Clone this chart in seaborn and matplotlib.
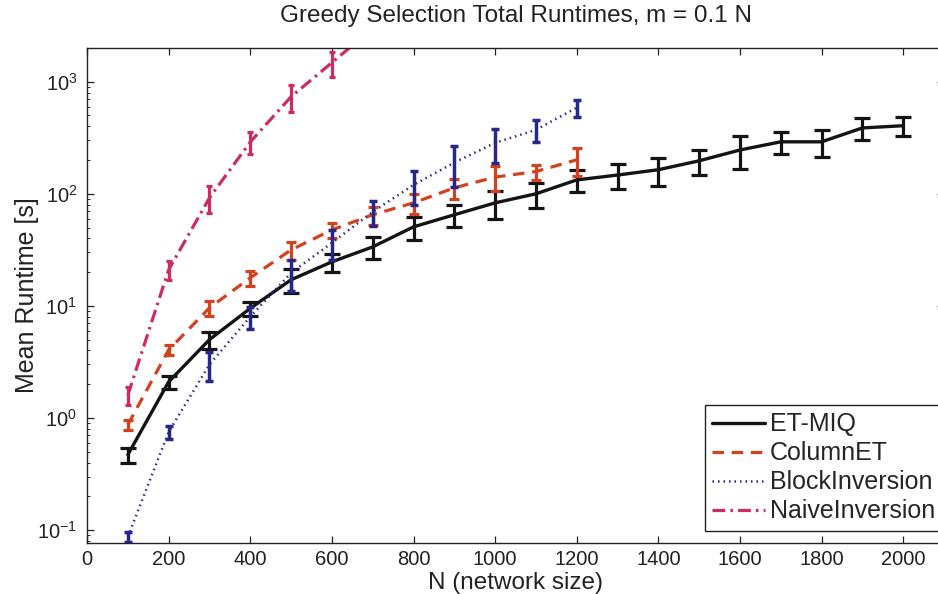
import numpy as np
import pandas as pd
import matplotlib
matplotlib.use("Agg")
import matplotlib.pyplot as plt
import seaborn as sns
from matplotlib.lines import Line2D
from matplotlib.ticker import FixedLocator, LogLocator, NullFormatter

# ---------------- data ----------------
n_etmiq = [100, 200, 300, 400, 500, 600, 700, 800, 900, 1000,
           1100, 1200, 1300, 1400, 1500, 1600, 1700, 1800, 1900, 2000]
etmiq = [0.47, 2.1, 5.0, 9.5, 17.1, 24.7, 33.6, 50.7, 65, 83,
         100, 133, 147, 164, 197, 246, 291, 291, 387, 405]
etmiq_err = [0.07, 0.28, 0.9, 1.4, 4.2, 4.5, 7.5, 12, 14, 23,
             25, 29, 37, 46, 49, 80, 64, 80, 85, 80]

n_col = [100, 200, 300, 400, 500, 600, 700, 800, 900, 1000, 1100, 1200]
colet = [0.87, 4.05, 9.6, 17.8, 31.6, 47.6, 65, 83, 113, 141, 158, 201]
colet_err = [0.09, 0.4, 1.4, 2.7, 5.7, 7, 12, 17, 23, 35, 24, 56]

n_blk = [100, 200, 300, 400, 500, 600, 700, 800, 900, 1000, 1100, 1200]
blkinv = [0.087, 0.75, 3.0, 8.0, 19.7, 36.5, 69, 120, 190, 285, 372, 587]
blkinv_err = [0.009, 0.1, 0.85, 1.8, 6, 11, 17, 40, 75, 95, 80, 105]

n_nai = [100, 200, 300, 400, 500, 600, 700]
naive = [1.6, 21, 92, 290, 735, 1480, 3000]
naive_err = [0.3, 4, 25, 65, 200, 370, 700]

labels = ["ET-MIQ", "ColumnET", "BlockInversion", "NaiveInversion"]
x_ticks = [0, 200, 400, 600, 800, 1000, 1200, 1400, 1600, 1800, 2000]

# ---------------- style ----------------
sns.set_style("ticks")
plt.rcParams["font.family"] = ["Liberation Sans", "DejaVu Sans"]
plt.rcParams["mathtext.fontset"] = "custom"
plt.rcParams["mathtext.rm"] = "Liberation Sans"
plt.rcParams["mathtext.it"] = "Liberation Sans:italic"
plt.rcParams["mathtext.bf"] = "Liberation Sans:bold"

fig = plt.figure(figsize=(9.38, 5.94), dpi=100)
ax = fig.add_axes([0.0928, 0.0859, 0.9136, 0.8333])

series = [
    (n_etmiq, etmiq, etmiq_err, "#141414", "-", 2.4, 5.8, 2.3),
    (n_col, colet, colet_err, "#d2421e", (0, (3.6, 2.4)), 2.3, 3.6, 2.3),
    (n_blk, blkinv, blkinv_err, "#27278a", (0, (0.6, 1.6)), 1.8, 3.0, 2.5),
    (n_nai, naive, naive_err, "#cc2c62", (0, (4.0, 1.6, 0.8, 1.6)), 2.3, 2.2, 2.3),
]

handles = []
for (xs, ys, es, c, ls, lw, cap, elw), lab in zip(series, labels):
    df = pd.DataFrame({"N": xs, "t": ys})
    sns.lineplot(data=df, x="N", y="t", ax=ax, color=c, linestyle=ls,
                 linewidth=lw, legend=False, errorbar=None)
    ax.errorbar(xs, ys, yerr=es, fmt="none", ecolor=c, elinewidth=elw,
                capsize=cap, capthick=elw)
    handles.append(Line2D([], [], color=c, linestyle=ls, linewidth=lw, label=lab))

ax.set_yscale("log")
ax.set_ylim(0.0766, 2000)
ax.set_xlim(0, 2100)
ax.xaxis.set_major_locator(FixedLocator(x_ticks))
ax.yaxis.set_major_locator(LogLocator(base=10, numticks=10))
ax.yaxis.set_minor_locator(LogLocator(base=10, subs=np.arange(2, 10), numticks=10))
ax.yaxis.set_minor_formatter(NullFormatter())

for s in ax.spines.values():
    s.set_visible(True)
    s.set_color("#222222")
    s.set_linewidth(1.0)

ax.tick_params(axis="both", which="major", direction="in", length=5, width=0.9,
               top=True, right=True, labelsize=14.5, colors="#222222")
ax.tick_params(axis="x", which="major", pad=5)
ax.tick_params(axis="y", which="major", pad=7)
ax.tick_params(axis="y", which="minor", direction="in", length=2.5, width=0.7,
               right=True)

ax.set_title("Greedy Selection Total Runtimes, m = 0.1 N", fontsize=17.5,
             color="#222222", pad=19)
ax.set_xlabel("N (network size)", fontsize=17.5, color="#222222", labelpad=2)
ax.set_ylabel("Mean Runtime [s]", fontsize=18, color="#222222", labelpad=-1)

leg = ax.legend(handles=handles, loc="upper left", bbox_to_anchor=(0.721, 0.279),
                borderaxespad=0, fontsize=18, frameon=True, fancybox=False,
                edgecolor="#222222", framealpha=1, handlelength=2.1,
                handletextpad=0.2, labelspacing=0.2, borderpad=0.3)
leg.get_frame().set_linewidth(1.0)

fig.savefig("out.png", dpi=100)
